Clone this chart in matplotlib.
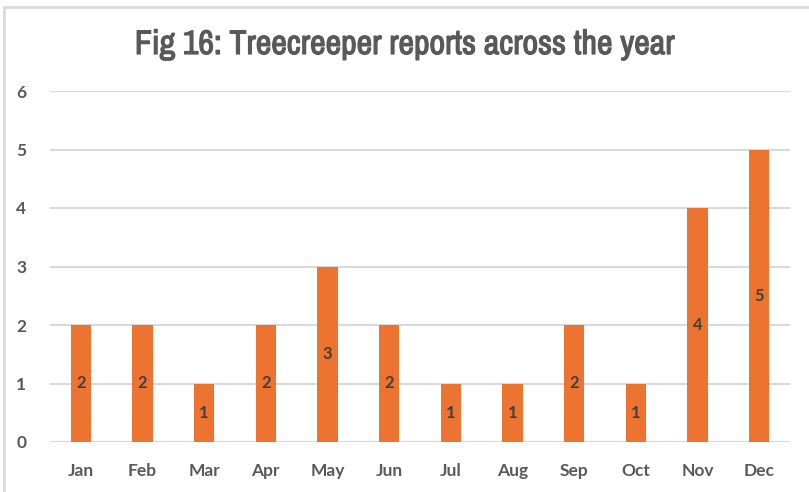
import matplotlib.pyplot as plt
import matplotlib.patheffects as pe
from matplotlib import font_manager
from matplotlib.patches import Rectangle

months = ["Jan", "Feb", "Mar", "Apr", "May", "Jun",
          "Jul", "Aug", "Sep", "Oct", "Nov", "Dec"]
reports = [2, 2, 1, 2, 3, 2, 1, 1, 2, 1, 4, 5]

# look for a narrow face for the title, else plain Liberation Sans
names = sorted({f.name for f in font_manager.fontManager.ttflist})
narrow = [n for n in names if "Narrow" in n or "Condensed" in n]
title_font = narrow[0] if narrow else "Liberation Sans"

W, H = 809, 492
fig = plt.figure(figsize=(W / 100, H / 100), dpi=100)

# chart frame (cropped at right/bottom)
fig.patches.append(Rectangle((4 / W, -0.1), 1.2, 1 - 7 / H + 0.1,
                             transform=fig.transFigure, fill=False,
                             edgecolor="#d9d9d9", linewidth=2))

ax = fig.add_axes([50 / W, 1 - 442 / H, 740 / W, (442 - 91) / H])
x = range(len(months))
bars = ax.bar(x, reports, width=0.33, color="#ED7331", zorder=3)

for xi, v in zip(x, reports):
    ax.text(xi, v / 2, str(v), ha="center", va="center", fontsize=12,
            fontweight="bold", color="#404040", family="Lato", zorder=4)

ax.set_xlim(-0.5, len(months) - 0.5)
ax.set_ylim(0, 6)
ax.set_yticks(range(7))
ax.set_xticks(list(x))
ax.set_xticklabels(months)
ax.grid(axis="y", color="#d9d9d9", linewidth=1.5, zorder=0)
for s in ax.spines.values():
    s.set_visible(False)
ax.axhline(0, color="#d9d9d9", linewidth=1.5, zorder=2)
ax.tick_params(length=0, labelsize=12.5, labelcolor="#595959", pad=15)
ax.tick_params(axis="y", pad=17)
for lab in ax.get_xticklabels() + ax.get_yticklabels():
    lab.set_fontweight("bold")
    lab.set_family("Lato")

# title face has no bold here, thicken it with a thin stroke
fig.text(0.5, 1 - 45 / H, "Fig 16: Treecreeper reports across the year",
         ha="center", va="center", fontsize=24.5, color="#595959",
         family=title_font, fontweight="bold",
         path_effects=[pe.withStroke(linewidth=0.9, foreground="#595959")])

fig.savefig("out.png", dpi=100)
